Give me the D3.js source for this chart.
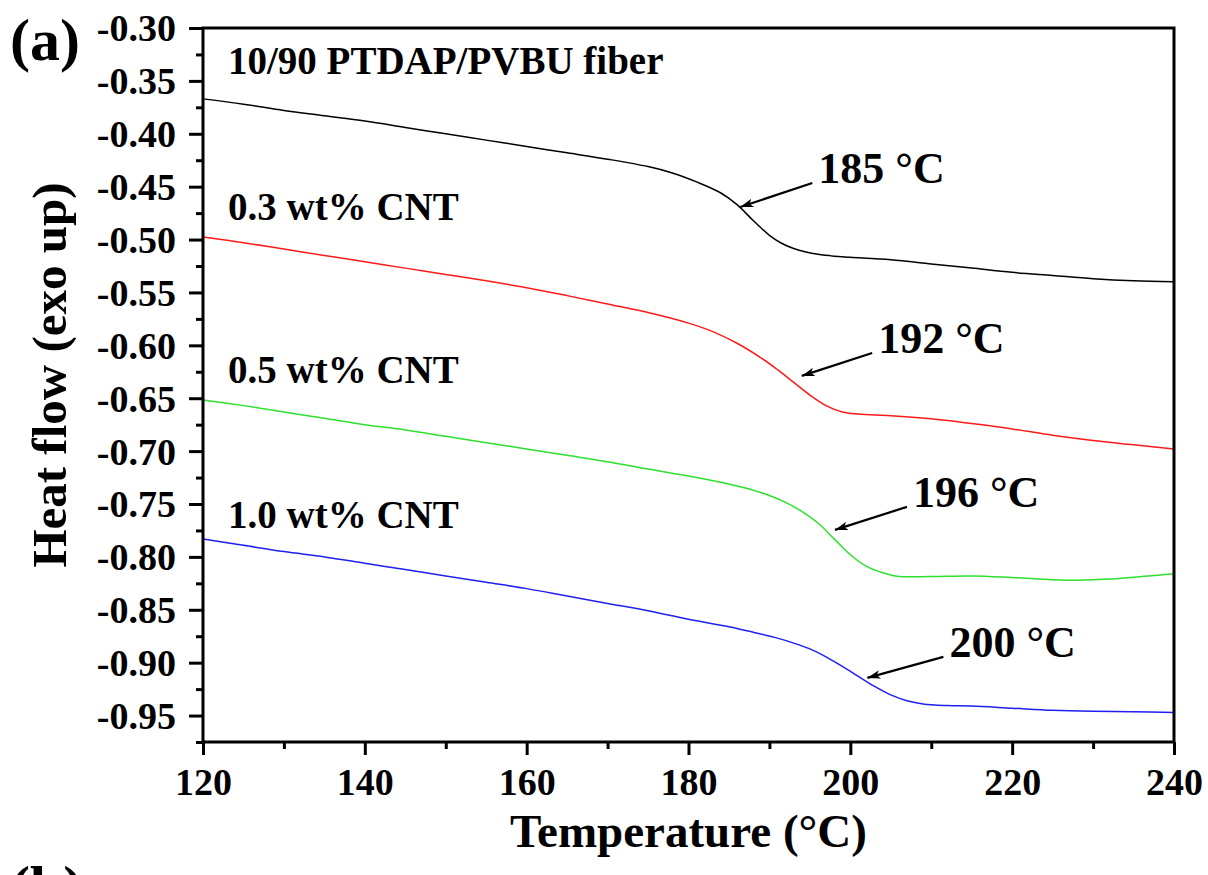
<!DOCTYPE html>
<html>
<head>
<meta charset="utf-8">
<script src="https://cdn.jsdelivr.net/npm/d3@7"></script>
<style>
  html, body { margin: 0; padding: 0; background: #fff; }
  svg { display: block; }
  text { font-family: "Liberation Serif", "Times New Roman", serif; font-weight: bold; fill: #000; }
</style>
</head>
<body>
<svg id="chart" width="1208" height="875"></svg>
<script>
// ---------------- DATA ----------------
const xTicks = [120, 140, 160, 180, 200, 220, 240];
const yTicks = [-0.30, -0.35, -0.40, -0.45, -0.50, -0.55, -0.60, -0.65, -0.70, -0.75, -0.80, -0.85, -0.90, -0.95];

const tempBlack = [120, 125, 130, 135, 140, 145, 150, 155, 160, 165, 170, 175, 178, 181, 184, 186, 188, 190, 191.5, 193, 194.5, 196, 198, 200, 205, 210, 215, 220, 225, 230, 235, 240];
const heatBlack = [-0.367, -0.372, -0.378, -0.383, -0.388, -0.394, -0.400, -0.406, -0.412, -0.418, -0.424, -0.431, -0.437, -0.4455, -0.456, -0.467, -0.482, -0.496, -0.5035, -0.5085, -0.5118, -0.514, -0.5157, -0.5167, -0.519, -0.523, -0.527, -0.531, -0.534, -0.537, -0.539, -0.540];

const tempRed = [120, 125, 130, 135, 140, 145, 150, 155, 160, 165, 170, 175, 180, 183, 186, 189, 191, 193, 195, 197, 199, 201, 205, 210, 215, 220, 225, 230, 235, 240];
const heatRed = [-0.4975, -0.503, -0.509, -0.515, -0.521, -0.527, -0.533, -0.539, -0.5455, -0.553, -0.561, -0.569, -0.579, -0.587, -0.598, -0.612, -0.623, -0.635, -0.647, -0.657, -0.663, -0.665, -0.6665, -0.6695, -0.674, -0.679, -0.685, -0.690, -0.694, -0.698];

const tempGreen = [120, 125, 130, 135, 140, 145, 150, 155, 160, 165, 170, 175, 180, 184, 186, 188, 190, 192, 194, 196, 198, 200, 202, 204, 206, 210, 215, 220, 225, 228, 232, 236, 240];
const heatGreen = [-0.6516, -0.657, -0.663, -0.669, -0.675, -0.680, -0.686, -0.692, -0.698, -0.704, -0.710, -0.717, -0.7235, -0.7295, -0.733, -0.737, -0.742, -0.7485, -0.757, -0.768, -0.783, -0.798, -0.809, -0.815, -0.8185, -0.8185, -0.818, -0.8195, -0.8215, -0.822, -0.821, -0.8185, -0.816];

const tempBlue = [120, 125, 130, 135, 140, 145, 150, 155, 160, 165, 170, 175, 180, 185, 188, 191, 193, 195, 197, 199, 201, 203, 205, 207, 209, 212, 215, 220, 225, 230, 235, 240];
const heatBlue = [-0.783, -0.789, -0.795, -0.800, -0.806, -0.812, -0.818, -0.824, -0.830, -0.837, -0.844, -0.851, -0.859, -0.866, -0.8712, -0.8768, -0.8815, -0.887, -0.8945, -0.9035, -0.913, -0.9225, -0.9305, -0.936, -0.939, -0.9405, -0.941, -0.943, -0.945, -0.946, -0.9465, -0.947];

const seriesNames = ["10/90 PTDAP/PVBU fiber", "0.3 wt% CNT", "0.5 wt% CNT", "1.0 wt% CNT"];
const seriesColors = ["#000000", "#ff1a1a", "#2ee02e", "#1f1fef"];
// label anchor values (data space) for series names
const nameValues = [-0.3435, -0.4815, -0.6355, -0.7725];

// Tg annotations: label, arrow tip (T, value), arrow tail (T, value)
const tgLabels = ["185 \u00B0C", "192 \u00B0C", "196 \u00B0C", "200 \u00B0C"];
const tipT = [186.4, 194.0, 198.1, 202.1];
const tipV = [-0.4692, -0.6289, -0.7745, -0.9144];
const tailT = [195.3, 202.7, 207.0, 211.5];
const tailV = [-0.4465, -0.6072, -0.7527, -0.8945];

// ---------------- LAYOUT ----------------
const svg = d3.select("#chart");
const L = 203, R = 1174, T = 28, B = 742;

const x = d3.scaleLinear().domain([120, 240]).range([L, R]);
const y = d3.scaleLinear().domain([-0.975, -0.30]).range([B, T]);

const series = [
  { t: tempBlack, v: heatBlack },
  { t: tempRed, v: heatRed },
  { t: tempGreen, v: heatGreen },
  { t: tempBlue, v: heatBlue }
];

const line = d3.line()
  .x(d => x(d[0]))
  .y(d => y(d[1]))
  .curve(d3.curveCatmullRom.alpha(0.5));

series.forEach((s, i) => {
  const pts = s.t.map((t, k) => [t, s.v[k]]);
  svg.append("path")
    .attr("d", line(pts))
    .attr("fill", "none")
    .attr("stroke", seriesColors[i])
    .attr("stroke-width", 1.5);
});

// ---------------- AXES ----------------
const fmt = d3.format(".2f");
const minorY = d3.range(-0.975, -0.30, 0.05).map(v => +v.toFixed(3));
const minorX = d3.range(130, 240, 20);

// left axis
const yAxis = d3.axisLeft(y).tickValues(yTicks).tickFormat(d => fmt(d).replace("\u2212", "-")).tickSize(14).tickPadding(13);
const gy = svg.append("g").attr("transform", `translate(${L},0)`).call(yAxis);
gy.select(".domain").remove();
gy.selectAll(".tick line").attr("stroke", "#000").attr("stroke-width", 3);
gy.selectAll(".tick text").style("font-size", "38px").style("font-family", "Liberation Serif").style("font-weight", "bold").attr("dy", "0.34em");
const gyMinor = d3.axisLeft(y).tickValues(minorY).tickSize(7).tickFormat("");
const gym = svg.append("g").attr("transform", `translate(${L},0)`).call(gyMinor);
gym.select(".domain").remove();
gym.selectAll(".tick line").attr("stroke", "#000").attr("stroke-width", 3);

// bottom axis
const xAxis = d3.axisBottom(x).tickValues(xTicks).tickFormat(d3.format("d")).tickSize(13).tickPadding(10);
const gx = svg.append("g").attr("transform", `translate(0,${B})`).call(xAxis);
gx.select(".domain").remove();
gx.selectAll(".tick line").attr("stroke", "#000").attr("stroke-width", 3);
gx.selectAll(".tick text").style("font-size", "38px").style("font-family", "Liberation Serif").style("font-weight", "bold").attr("dy", "0.8em");
const gxMinor = d3.axisBottom(x).tickValues(minorX).tickSize(7).tickFormat("");
const gxm = svg.append("g").attr("transform", `translate(0,${B})`).call(gxMinor);
gxm.select(".domain").remove();
gxm.selectAll(".tick line").attr("stroke", "#000").attr("stroke-width", 3);

// frame
svg.append("rect")
  .attr("x", L).attr("y", T)
  .attr("width", R - L).attr("height", B - T)
  .attr("fill", "none").attr("stroke", "#000").attr("stroke-width", 3);

// axis titles
svg.append("text")
  .attr("x", (L + R) / 2).attr("y", 847)
  .attr("text-anchor", "middle")
  .style("font-size", "47px")
  .text("Temperature (\u00B0C)");

svg.append("text")
  .attr("transform", `translate(66,${(T + B) / 2 - 10}) rotate(-90)`)
  .attr("text-anchor", "middle")
  .style("font-size", "49px")
  .text("Heat flow (exo up)");

// panel labels
svg.append("text").attr("x", 10).attr("y", 60).style("font-size", "60px").text("(a)");
svg.append("text").attr("x", 10).attr("y", 907).style("font-size", "60px").text("(b)");

// series names
seriesNames.forEach((n, i) => {
  svg.append("text")
    .attr("x", x(120) + 25)
    .attr("y", y(nameValues[i]))
    .style("font-size", "39px")
    .text(n);
});

// arrows
const defs = svg.append("defs");
defs.append("marker")
  .attr("id", "arr")
  .attr("viewBox", "0 0 12 8")
  .attr("refX", 12).attr("refY", 4)
  .attr("markerWidth", 13).attr("markerHeight", 9)
  .attr("markerUnits", "userSpaceOnUse")
  .attr("orient", "auto")
  .append("path")
  .attr("d", "M0,0 L12,4 L0,8 L3,4 Z")
  .attr("fill", "#000");

tgLabels.forEach((lab, i) => {
  svg.append("line")
    .attr("x1", x(tailT[i])).attr("y1", y(tailV[i]))
    .attr("x2", x(tipT[i])).attr("y2", y(tipV[i]))
    .attr("stroke", "#000").attr("stroke-width", 2.2)
    .attr("marker-end", "url(#arr)");
  svg.append("text")
    .attr("x", x(tailT[i]) + 6)
    .attr("y", y(tailV[i]))
    .style("font-size", "44px")
    .text(lab);
});
</script>
</body>
</html>
